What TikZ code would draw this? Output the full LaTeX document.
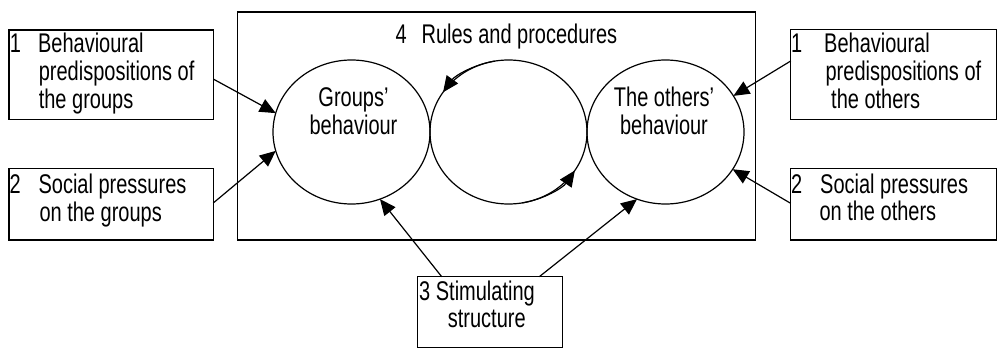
\documentclass[tikz,border=0pt]{standalone}
\usepackage{graphicx}
\usepackage{fontspec}
\setmainfont{Liberation Sans}
\usetikzlibrary{arrows.meta,shapes.geometric}
\newcommand\stretchl[1]{\scalebox{1}[1.35]{\begin{tabular}[t]{@{}l@{}}#1\end{tabular}}}
\newcommand\stretchc[1]{\scalebox{1}[1.35]{\begin{tabular}[t]{@{}c@{}}#1\end{tabular}}}
\begin{document}
\begin{tikzpicture}[x=1pt,y=1pt,
  font=\fontsize{20}{20.6}\selectfont,
  box/.style={draw, line width=1.2pt, rectangle, inner sep=0pt, outer sep=0pt},
  ell/.style={draw, ellipse, line width=1.2pt, minimum width=157pt, minimum height=144pt, inner sep=0pt, outer sep=0pt},
  txt/.style={inner sep=0pt, anchor=base west},
  txtc/.style={inner sep=0pt, anchor=base},
  arr/.style={line width=1.2pt, -{Triangle[length=16pt,width=14pt]}}]
\useasboundingbox (0,0) rectangle (997,349);

% frame: rules and procedures
\node[box, minimum width=518pt, minimum height=228pt] (frame) at (496.3,223) {};
\node[txt] (rules) at (395.5,305.7) {\scalebox{1}[1.35]{4\hspace{14.8pt}Rules and procedures}};

% outside boxes
\node[box, minimum width=204.3pt, minimum height=89.3pt] (b1) at (111.15,274.35) {};
\node[box, minimum width=204.3pt, minimum height=71.7pt] (b2) at (111.15,144.85) {};
\node[box, minimum width=205.8pt, minimum height=90pt] (r1) at (893.6,274.7) {};
\node[box, minimum width=205.8pt, minimum height=71.7pt] (r2) at (893.6,144.85) {};
\node[box, minimum width=145.4pt, minimum height=70.8pt] (b3) at (490,36.9) {};

\node[txt] (b1t) at (9.6,296) {\stretchl{\makebox[28.3pt][l]{1}Behavioural\\\hspace*{29pt}predispositions of\\\hspace*{29pt}the groups}};
\node[txt] (b2t) at (9.3,155.5) {\stretchl{\makebox[29.1pt][l]{2}Social pressures\\\hspace*{30pt}on the groups}};
\node[txt] (r1t) at (790.8,296) {\stretchl{\makebox[33.2pt][l]{1}Behavioural\\\hspace*{34.6pt}predispositions of\\\hspace*{40.2pt}the others}};
\node[txt] (r2t) at (790.8,156) {\stretchl{\makebox[29.2pt][l]{2}Social pressures\\\hspace*{28.5pt}on the others}};
\node[txt] (b3t) at (419,49) {\stretchl{3 Stimulating\\\hspace*{28.7pt}structure}};

% circles
\node[ell] (g) at (351.5,217) {};
\node[ell] (m) at (508.5,217) {};
\node[ell] (o) at (665.5,217) {};
\node[txtc] (gt) at (353.5,242.3) {\stretchc{Groups'\\behaviour}};
\node[txtc] (ot) at (664,242.3) {\stretchc{The others'\\behaviour}};

% cycle arrows on the middle circle
\draw[arr] ([shift={(100:78.5pt and 72pt)}]m.center) arc[start angle=100, end angle=146.5, x radius=78.5pt, y radius=72pt];
\draw[arr] ([shift={(-80:78.5pt and 72pt)}]m.center) arc[start angle=-80, end angle=-32.3, x radius=78.5pt, y radius=72pt];

% influences
\draw[arr] ([yshift=-4.4pt]b1.east) -- (g.166);
\draw[arr] ([yshift=1.2pt]b2.east) -- (g.194);
\draw[arr] ([xshift=-48.3pt]b3.north) -- (g.293);
\draw[arr] ([xshift=49.3pt]b3.north) -- (o.247);
\draw[arr] ([yshift=13.3pt]r1.west) -- (o.28.6);
\draw[arr] ([yshift=0.8pt]r2.west) -- (o.331);
\end{tikzpicture}
\end{document}
